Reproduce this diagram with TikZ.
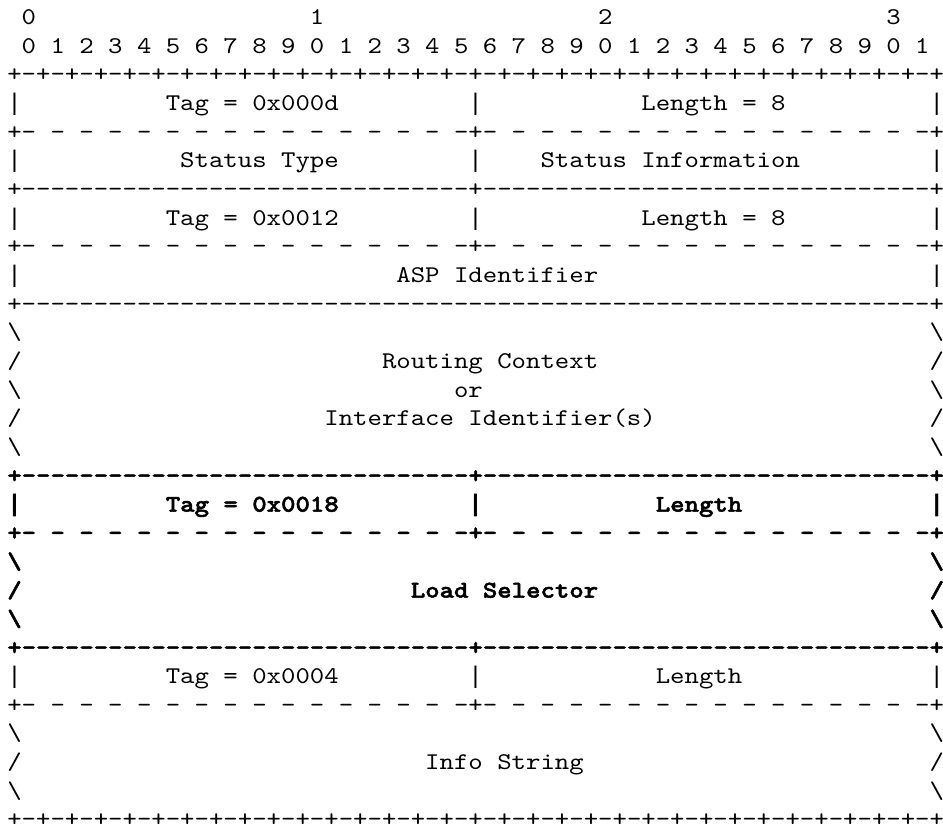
\documentclass[tikz,border=0pt]{standalone}
\usepackage{fontspec}
\setmonofont{lmmono10-regular.otf}[BoldFont=lmmonolt10-bold.otf, BoldFeatures={FakeBold=2}, FakeStretch=1.1438]
\newfontfamily\barfont{Liberation Mono}
\newcommand\gap[1]{\hspace*{#1\fontcharwd\font`0}}
\newcommand\bs{\textbackslash}
\newcommand\vb{{\barfont|}}
\newcommand\rulePlus{+-+-+-+-+-+-+-+-+-+-+-+-+-+-+-+-+-+-+-+-+-+-+-+-+-+-+-+-+-+-+-+-+}
\newcommand\ruleDash{+- - - - - - - - - - - - - - - -+- - - - - - - - - - - - - - - -+}
\newcommand\ruleSolid{+-------------------------------+-------------------------------+}
\newcommand\ruleFull{+---------------------------------------------------------------+}
\tikzset{
  row/.style={anchor=base west, inner sep=0pt, outer sep=0pt,
    font=\ttfamily\fontsize{24}{28}\selectfont},
  rowb/.style={anchor=base west, inner sep=0pt, outer sep=0pt,
    font=\ttfamily\bfseries\fontsize{24}{28}\selectfont}
}
\begin{document}
\begin{tikzpicture}[x=1pt,y=1pt]
\useasboundingbox[fill=white] (0,0) rectangle (943,-833);
\node[row] (l1) at (7.3,-24.60) {\gap{1}0\gap{19}1\gap{19}2\gap{19}3};
\node[row] (l2) at (7.3,-53.25) {\gap{1}0 1 2 3 4 5 6 7 8 9 0 1 2 3 4 5 6 7 8 9 0 1 2 3 4 5 6 7 8 9 0 1};
\node[row] (l3) at (7.3,-81.90) {\rulePlus};
\node[row] (l4) at (7.3,-110.55) {\vb\gap{10}Tag = 0x000d\gap{9}\vb\gap{11}Length = 8\gap{10}\vb};
\node[row] (l5) at (7.3,-139.20) {\ruleDash};
\node[row] (l6) at (7.3,-167.85) {\vb\gap{11}Status Type\gap{9}\vb\gap{4}Status Information\gap{9}\vb};
\node[row] (l7) at (7.3,-196.50) {\ruleSolid};
\node[row] (l8) at (7.3,-225.15) {\vb\gap{10}Tag = 0x0012\gap{9}\vb\gap{11}Length = 8\gap{10}\vb};
\node[row] (l9) at (7.3,-253.80) {\ruleDash};
\node[row] (l10) at (7.3,-282.45) {\vb\gap{26}ASP Identifier\gap{23}\vb};
\node[row] (l11) at (7.3,-311.10) {\ruleFull};
\node[row] (l12) at (7.3,-339.75) {\bs\gap{63}\bs};
\node[row] (l13) at (7.3,-368.40) {/\gap{25}Routing Context\gap{23}/};
\node[row] (l14) at (7.3,-397.05) {\bs\gap{30}or\gap{31}\bs};
\node[row] (l15) at (7.3,-425.70) {/\gap{21}Interface Identifier(s)\gap{19}/};
\node[row] (l16) at (7.3,-454.35) {\bs\gap{63}\bs};
\node[rowb] (l17) at (7.3,-483.00) {\ruleSolid};
\node[rowb] (l18) at (7.3,-511.65) {\vb\gap{10}Tag = 0x0018\gap{9}\vb\gap{12}Length\gap{13}\vb};
\node[rowb] (l19) at (7.3,-540.30) {\ruleDash};
\node[rowb] (l20) at (7.3,-568.95) {\bs\gap{63}\bs};
\node[rowb] (l21) at (7.3,-597.60) {/\gap{27}Load Selector\gap{23}/};
\node[rowb] (l22) at (7.3,-626.25) {\bs\gap{63}\bs};
\node[rowb] (l23) at (7.3,-654.90) {\ruleSolid};
\node[row] (l24) at (7.3,-683.55) {\vb\gap{10}Tag = 0x0004\gap{9}\vb\gap{12}Length\gap{13}\vb};
\node[row] (l25) at (7.3,-712.20) {\ruleDash};
\node[row] (l26) at (7.3,-740.85) {\bs\gap{63}\bs};
\node[row] (l27) at (7.3,-769.50) {/\gap{28}Info String\gap{24}/};
\node[row] (l28) at (7.3,-798.15) {\bs\gap{63}\bs};
\node[row] (l29) at (7.3,-826.80) {\rulePlus};
\end{tikzpicture}
\end{document}
